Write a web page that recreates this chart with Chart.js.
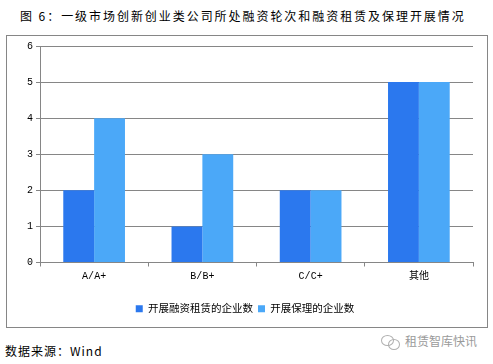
<!DOCTYPE html>
<html>
<head>
<meta charset="utf-8">
<script src="https://cdn.jsdelivr.net/npm/chart.js@4"></script>
<style>
    html, body { margin: 0; padding: 0; background: #fff; overflow: hidden; }
    body { width: 493px; height: 364px; position: relative; font-family: "Noto Sans CJK SC", sans-serif; color: #000; }
    .title { position: absolute; left: 20px; top: 7px; font-size: 12px; line-height: 18px; letter-spacing: 1.95px; white-space: nowrap; }
    .frame { position: absolute; left: 6px; top: 35px; width: 480px; height: 291px; border: 1px solid #868686; }
    .source { position: absolute; left: 5px; top: 342px; font-size: 12px; line-height: 18px; letter-spacing: 1px; white-space: nowrap; }
    .mark { position: absolute; left: 405px; top: 333px; font-size: 12px; line-height: 16px; color: #9a9a9a; white-space: nowrap; }
    .bubble { position: absolute; border: 1px solid #b0b0b0; border-radius: 50%; }
    canvas { position: absolute; left: 0; top: 0; }
</style>
</head>
<body>
<div class="title">图 6：一级市场创新创业类公司所处融资轮次和融资租赁及保理开展情况</div>
<div class="frame"><canvas id="chart" width="480" height="291"></canvas></div>
<div class="source">数据来源：Wind</div>
<div class="bubble" style="left:381px;top:335px;width:11px;height:9px"></div>
<div class="bubble" style="left:388px;top:339px;width:10px;height:9px"></div>
<div class="mark">租赁智库快讯</div>
<script>
const categories = ['A/A+', 'B/B+', 'C/C+', '其他'];
const leaseCounts = [2, 1, 2, 5];
const factoringCounts = [4, 3, 2, 5];
const yTicks = [0, 1, 2, 3, 4, 5, 6];
const seriesNames = ['开展融资租赁的企业数', '开展保理的企业数'];

const axisColor = '#868686';
const fontFamily = '"Liberation Mono", "Noto Sans CJK SC", monospace';

// legend sits a little right of the canvas centre in the original
const shiftLegend = {
    id: 'shiftLegend',
    afterLayout(chart) {
        chart.legend.left += 5;
        chart.legend.right += 5;
    }
};

const ctx = document.getElementById('chart');
new Chart(ctx, {
    type: 'bar',
    plugins: [shiftLegend],
    data: {
        labels: categories,
        datasets: [{
            label: seriesNames[0],
            data: leaseCounts,
            backgroundColor: '#2B78EE',
            barPercentage: 1,
            categoryPercentage: 0.57
        }, {
            label: seriesNames[1],
            data: factoringCounts,
            backgroundColor: '#4BA8F8',
            barPercentage: 1,
            categoryPercentage: 0.57
        }]
    },
    options: {
        responsive: false,
        animation: false,
        layout: { padding: { left: 0, right: 14, top: 10, bottom: 3 } },
        plugins: {
            tooltip: { enabled: false },
            legend: {
                position: 'bottom',
                align: 'center',
                labels: {
                    boxWidth: 7,
                    boxHeight: 7,
                    padding: 5,
                    color: '#000',
                    font: { family: fontFamily, size: 10.5 }
                }
            }
        },
        scales: {
            x: {
                grid: { drawOnChartArea: false, color: axisColor, tickLength: 4 },
                border: { color: axisColor },
                ticks: { color: '#000', font: { family: fontFamily, size: 10 }, padding: 4, maxRotation: 0 },
                afterFit: (scale) => { scale.height = 36; }
            },
            y: {
                min: 0,
                max: 6,
                afterBuildTicks: (scale) => { scale.ticks = yTicks.map(v => ({ value: v })); },
                grid: { color: axisColor, tickLength: 4 },
                border: { color: axisColor },
                ticks: { color: '#000', font: { family: fontFamily, size: 10 }, padding: 3, autoSkip: false },
                afterFit: (scale) => { scale.width = 33; }
            }
        }
    }
});
</script>
</body>
</html>
